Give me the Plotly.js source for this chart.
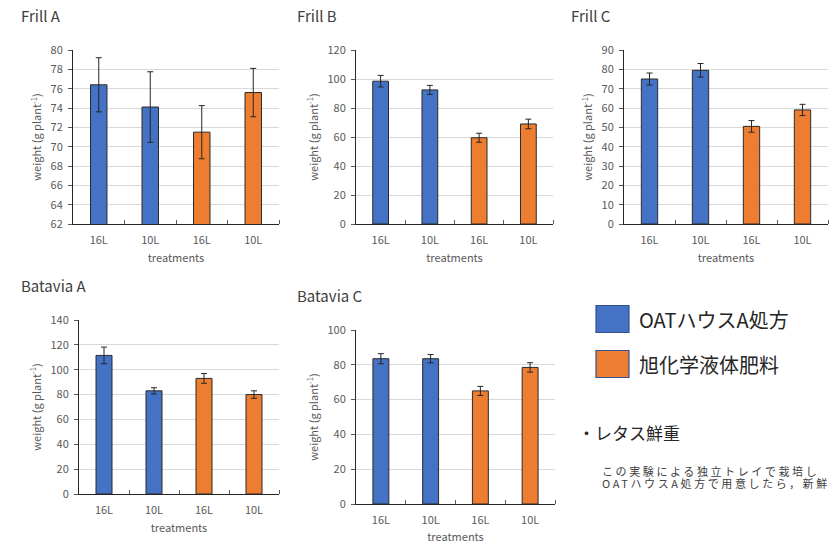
<!DOCTYPE html>
<html>
<head>
<meta charset="utf-8">
<script src="https://cdn.plot.ly/plotly-3.0.1.min.js"></script>
<style>
html,body{margin:0;padding:0;background:#fff;overflow:hidden;}
#chart{width:834px;height:544px;}
</style>
</head>
<body>
<div id="chart"></div>
<script>
// ---- data ----
const categories = ['16L', '10L', '16L', '10L'];
const fertilizer = ['OATハウスA処方', 'OATハウスA処方', '旭化学液体肥料', '旭化学液体肥料'];
const seriesNames = ['OATハウスA処方', '旭化学液体肥料'];

const frillA = [76.4, 74.1, 71.5, 75.6];
const frillAErr = [2.8, 3.65, 2.75, 2.5];
const frillB = [98.5, 92.5, 59.5, 69.0];
const frillBErr = [4.0, 3.1, 3.1, 3.3];
const frillC = [75.0, 79.5, 50.5, 59.0];
const frillCErr = [3.1, 3.5, 3.0, 2.9];
const bataviaA = [111.5, 83.0, 93.0, 80.0];
const bataviaAErr = [6.7, 2.5, 3.9, 3.0];
const bataviaC = [83.5, 83.5, 65.0, 78.5];
const bataviaCErr = [2.9, 2.4, 2.6, 2.7];

const panelTitles = ['Frill A', 'Frill B', 'Frill C', 'Batavia A', 'Batavia C'];
const xTitle = 'treatments';
const yTitle = 'weight (g plant<sup>-1</sup>)';
const noteHeading = '・レタス鮮重';
const noteLines = ['この実験による独立トレイで栽培し', 'OATハウスA処方で用意したら，新鮮'];

// ---- styling ----
const W = 834, H = 544;
const colorOf = {'OATハウスA処方': '#4472C4', '旭化学液体肥料': '#ED7D31'};
const FONT = '"Noto Sans CJK JP", "Noto Sans", sans-serif';
const px = v => v / W;
const py = v => 1 - v / H;

const panels = [
  {vals: frillA, err: frillAErr, range: [62, 80], dtick: 2, x: [73, 279], y: [50, 224], title: [19, 15]},
  {vals: frillB, err: frillBErr, range: [0, 120], dtick: 20, x: [356, 553], y: [50, 224], title: [295, 15]},
  {vals: frillC, err: frillCErr, range: [0, 90], dtick: 10, x: [624, 828], y: [50, 224], title: [569, 15]},
  {vals: bataviaA, err: bataviaAErr, range: [0, 140], dtick: 20, x: [79, 279], y: [320, 494], title: [19, 285]},
  {vals: bataviaC, err: bataviaCErr, range: [0, 100], dtick: 20, x: [356, 555], y: [330, 504], title: [295, 295]}
];

const xIdx = categories.map((_, i) => i);
const traces = [];
const layout = {
  width: W, height: H,
  margin: {l: 0, r: 0, t: 0, b: 0},
  paper_bgcolor: '#ffffff', plot_bgcolor: '#ffffff',
  showlegend: false,
  font: {family: FONT, color: '#595959', size: 11},
  annotations: [], shapes: []
};

panels.forEach((p, k) => {
  const n = k + 1;
  const sfx = n === 1 ? '' : String(n);
  traces.push({
    type: 'bar',
    x: xIdx, y: p.vals,
    xaxis: 'x' + sfx, yaxis: 'y' + sfx,
    width: 0.32,
    marker: {color: fertilizer.map(f => colorOf[f]), line: {color: '#2b2b2b', width: 1}},
    error_y: {type: 'data', array: p.err, visible: true, color: '#262626', thickness: 1, width: 3},
    hoverinfo: 'skip'
  });
  layout['xaxis' + sfx] = {
    domain: [px(p.x[0]), px(p.x[1])],
    anchor: 'y' + sfx,
    range: [-0.5, 3.5],
    tickmode: 'array', tickvals: xIdx, ticktext: categories,
    ticks: '', showgrid: false, zeroline: false,
    showline: true, linecolor: '#262626', linewidth: 1,
    tickfont: {size: 11, color: '#595959'},
    ticklabelstandoff: 6,
    minor: {tickmode: 'array', tickvals: [0.5, 1.5, 2.5, 3.5], ticks: 'inside', ticklen: 4, tickcolor: '#595959', showgrid: false},
    title: {text: xTitle, font: {size: 11, color: '#595959'}, standoff: 8},
    fixedrange: true
  };
  layout['yaxis' + sfx] = {
    domain: [py(p.y[1]), py(p.y[0])],
    anchor: 'x' + sfx,
    range: p.range, dtick: p.dtick, tick0: p.range[0],
    ticks: 'outside', ticklen: 4, tickcolor: '#595959',
    showgrid: true, gridcolor: '#d9d9d9', gridwidth: 1,
    zeroline: false,
    showline: true, linecolor: '#262626', linewidth: 1,
    tickfont: {size: 11, color: '#595959'},
    ticklabelstandoff: 3,
    title: {text: yTitle, font: {size: 11, color: '#595959'}, standoff: 6},
    fixedrange: true
  };
  layout.annotations.push({
    xref: 'paper', yref: 'paper', x: px(p.title[0]), y: py(p.title[1]),
    xanchor: 'left', yanchor: 'middle', showarrow: false,
    text: panelTitles[k], font: {size: 15, color: '#404040', family: FONT}
  });
});

// legend boxes
const legendRows = [319, 364];
seriesNames.forEach((s, i) => {
  const cy = legendRows[i];
  layout.shapes.push({
    type: 'rect', xref: 'paper', yref: 'paper',
    x0: px(596), x1: px(629), y0: py(cy + 13.5), y1: py(cy - 13.5),
    fillcolor: colorOf[s], line: {color: '#2F528F', width: 1.2}
  });
  layout.annotations.push({
    xref: 'paper', yref: 'paper', x: px(637), y: py(cy),
    xanchor: 'left', yanchor: 'middle', showarrow: false,
    text: s, font: {size: 20, color: '#262626', family: FONT}
  });
});

layout.annotations.push({
  xref: 'paper', yref: 'paper', x: px(576), y: py(432),
  xanchor: 'left', yanchor: 'middle', showarrow: false,
  text: noteHeading, font: {size: 17, color: '#262626', family: FONT}
});
noteLines.forEach((t, i) => {
  layout.annotations.push({
    xref: 'paper', yref: 'paper', x: px(602), y: py(471 + i * 12),
    xanchor: 'left', yanchor: 'middle', showarrow: false,
    text: t, font: {size: 11, color: '#404040', family: FONT}
  });
});

Plotly.newPlot('chart', traces, layout, {displayModeBar: false, staticPlot: true}).then(() => {
  const host = document.getElementById('chart').getBoundingClientRect();
  document.querySelectorAll('.annotation-text').forEach(el => {
    if (noteLines.includes(el.textContent)) {
      el.style.letterSpacing = '2.6px';
      const r = el.getBoundingClientRect();
      const dx = (host.left + 602) - r.left;
      const prev = el.getAttribute('transform') || '';
      el.setAttribute('transform', 'translate(' + dx + ',0) ' + prev);
    }
  });
});
</script>
</body>
</html>
